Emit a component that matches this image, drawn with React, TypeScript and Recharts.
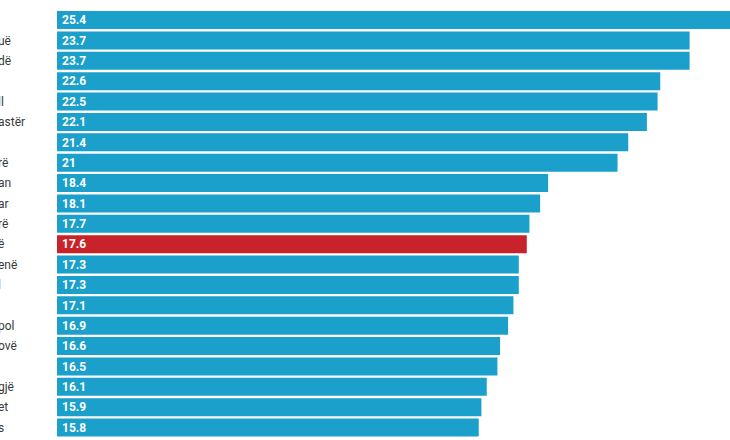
import React from "react";
import { BarChart, Bar, XAxis, YAxis, Cell, LabelList } from "recharts";

// visible part of the row labels (the picture is cropped on the left)
const labels = [
  "", "uë", "dë", "", "ll", "astër", "", "rë", "an", "ar", "rë",
  "ë", "enë", "l", "", "pol", "ovë", "", "gjë", "et", "s",
];

const values = [
  25.4, 23.7, 23.7, 22.6, 22.5, 22.1, 21.4, 21, 18.4, 18.1, 17.7,
  17.6, 17.3, 17.3, 17.1, 16.9, 16.6, 16.5, 16.1, 15.9, 15.8,
];

const highlightIndex = 11;

const BLUE = "#1b9fcb";
const RED = "#c8222a";

const data = values.map((v, i) => ({ id: i, name: labels[i], value: v }));

// names are left aligned and run off the left edge of the picture
function NameTick(props: any) {
  const { y, payload } = props;
  return (
    <text
      x={-2}
      y={y}
      textAnchor="start"
      dominantBaseline="central"
      fontSize={12}
      fill="#3a3a3a"
      fontFamily="Roboto, sans-serif"
    >
      {labels[payload.value]}
    </text>
  );
}

export default function App() {
  return (
    <div
      style={{
        position: "absolute",
        left: 0,
        top: 0,
        width: 730,
        height: 440,
        overflow: "hidden",
        background: "#fff",
      }}
    >
      <BarChart
        width={751}
        height={440}
        data={data}
        layout="vertical"
        margin={{ top: 10, right: 0, bottom: 2, left: 0 }}
      >
        <XAxis type="number" domain={[0, 26]} hide />
        <YAxis
          type="category"
          dataKey="id"
          width={57}
          axisLine={false}
          tickLine={false}
          interval={0}
          tick={<NameTick />}
        />
        <Bar dataKey="value" barSize={18} isAnimationActive={false}>
          {data.map((d) => (
            <Cell key={d.id} fill={d.id === highlightIndex ? RED : BLUE} />
          ))}
          <LabelList
            dataKey="value"
            position="insideLeft"
            offset={5}
            fill="#fff"
            fontSize={12}
            fontWeight={700}
            fontFamily="Roboto, sans-serif"
          />
        </Bar>
      </BarChart>
    </div>
  );
}
